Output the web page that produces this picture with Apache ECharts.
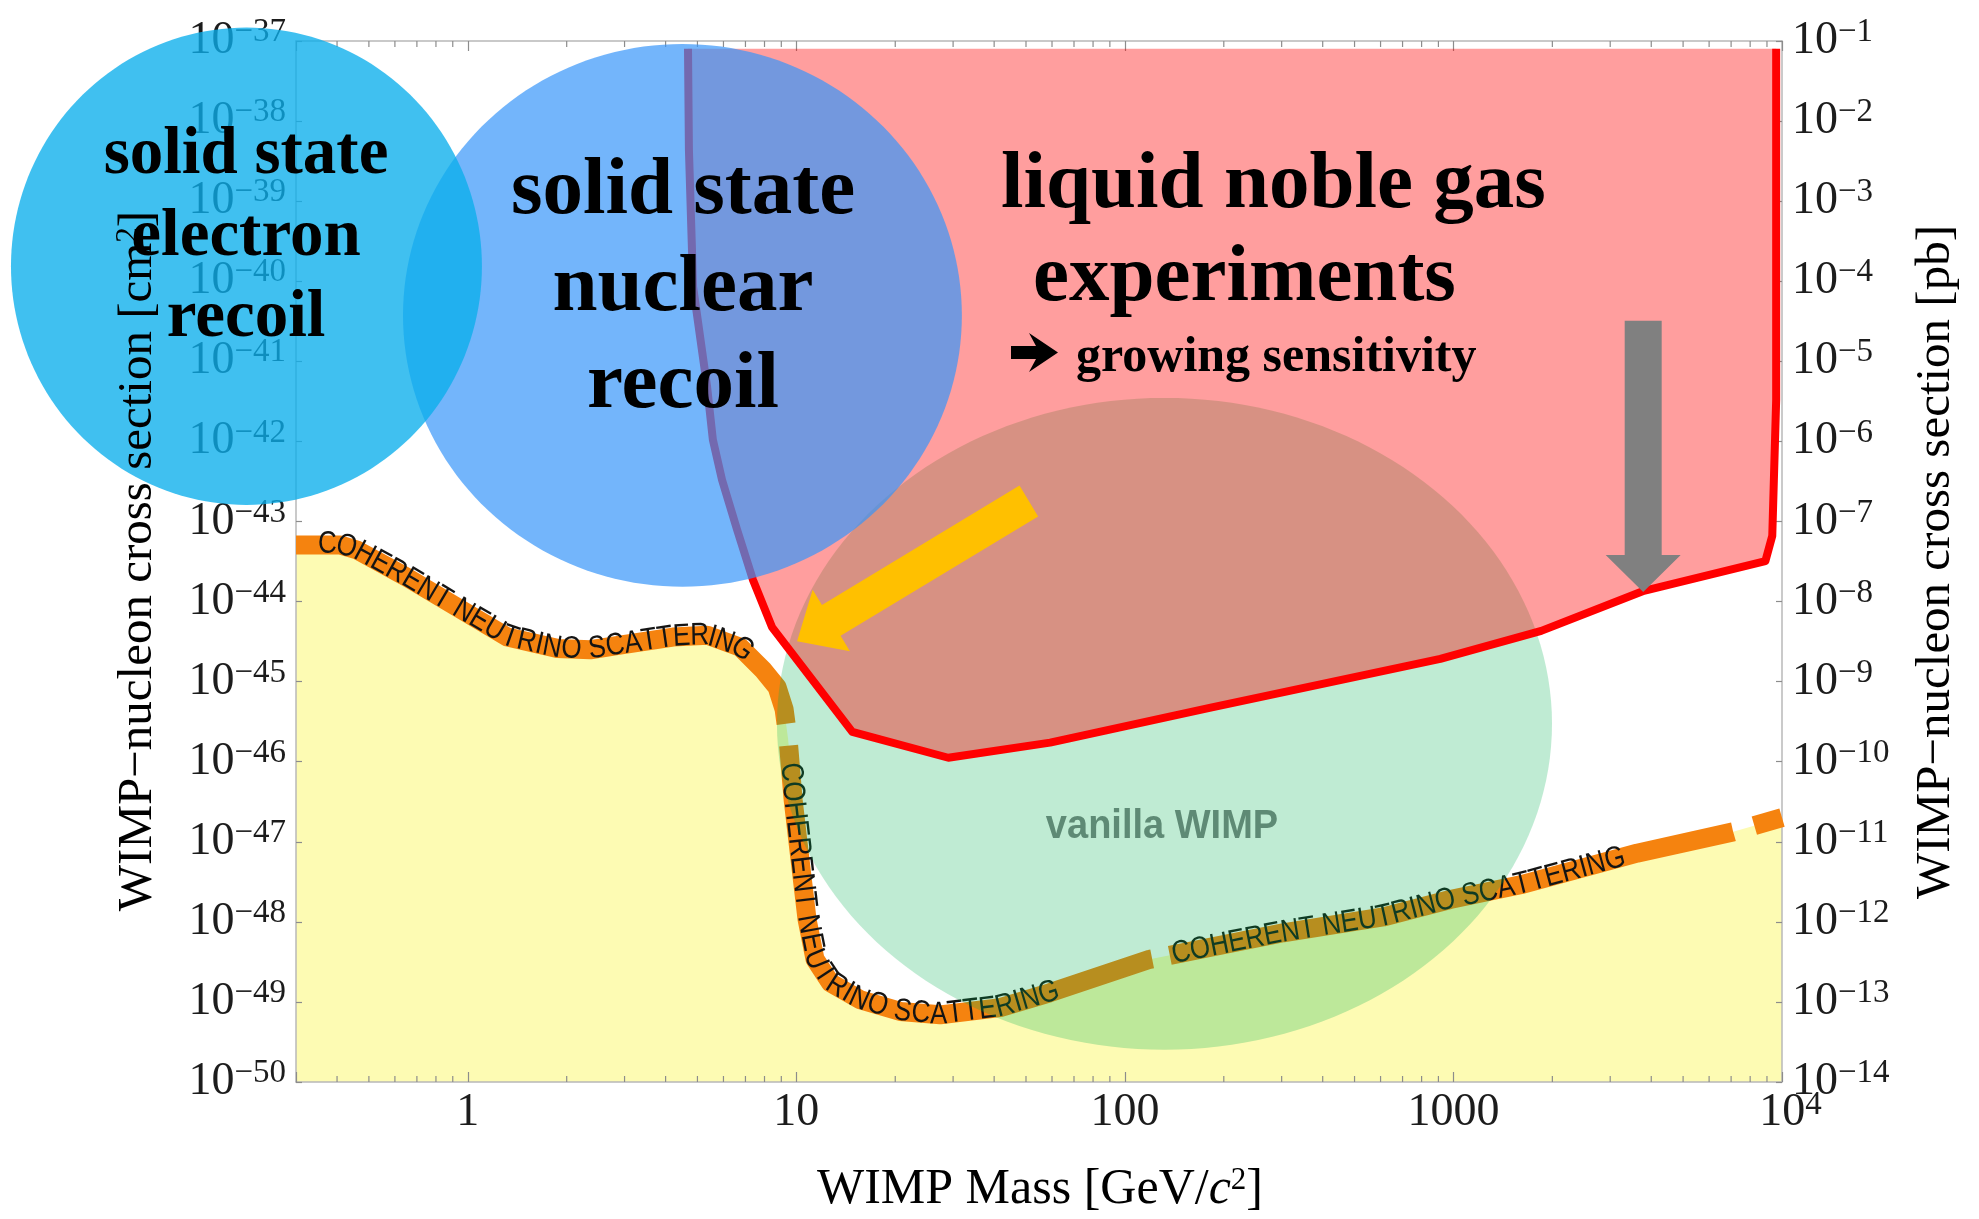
<!DOCTYPE html>
<html>
<head>
<meta charset="utf-8">
<title>WIMP-nucleon cross section vs WIMP mass</title>
<script src="https://cdn.jsdelivr.net/npm/echarts@6/dist/echarts.min.js"></script>
<style>
  html, body { margin: 0; padding: 0; background: #ffffff; }
  #chart { width: 1979px; height: 1219px; }
</style>
</head>
<body>
<div id="chart"></div>
<script>
// ---------------------------------------------------------------------------
// Data (mass in GeV/c^2, cross sections in cm^2)
// ---------------------------------------------------------------------------

// Coherent neutrino scattering floor
const floorMass  = [0.3, 0.408, 0.46, 0.653, 0.927, 1.32, 1.87, 2.36, 2.97, 4.21, 5.35, 6.74,
                    7.92, 8.74, 9.18, 9.44, 9.78, 10.26, 10.78, 11.4, 12.7, 15.6, 20.7, 27.4,
                    41.7, 59, 119, 303, 611, 977, 1600, 3620, 7100, 10000];
const floorSigma = [5.1e-44, 5.1e-44, 4.4e-44, 2.0e-44, 8.5e-45, 3.6e-45, 2.6e-45, 2.5e-45,
                    2.9e-45, 3.6e-45, 3.8e-45, 2.7e-45, 1.4e-45, 8.5e-46, 4.5e-46, 1.9e-46,
                    3.3e-47, 6.0e-48, 1.07e-48, 3.4e-49, 1.74e-49, 1.07e-49, 7.6e-50, 6.9e-50,
                    8.5e-50, 1.3e-49, 3.4e-49, 7.3e-49, 1.15e-48, 1.9e-48, 2.9e-48, 7.2e-48,
                    1.33e-47, 2.0e-47];

// Liquid noble gas experiments: reach of the sensitivity region (outline)
const nobleMass  = [4.68, 4.71, 4.85, 5.35, 5.57, 5.94, 6.6, 7.38, 8.43, 14.8, 29.0, 59.2,
                    181, 912, 1850, 3800, 8900, 9340, 9600, 9600];
const nobleSigma = [8e-38, 4.4e-39, 8.5e-41, 4.8e-42, 1.05e-42, 3.3e-43, 7.9e-44, 1.86e-44,
                    4.8e-45, 2.36e-46, 1.12e-46, 1.73e-46, 4.7e-46, 1.92e-45, 4.3e-45,
                    1.36e-44, 3.2e-44, 6.6e-44, 3.3e-42, 8e-38];

// Schematic regions (ellipses spanning these mass / cross-section ranges)
const regionNames     = ['solid state electron recoil', 'solid state nuclear recoil', 'vanilla WIMP'];
const regionMassLow   = [0.0407, 0.635, 8.73];
const regionMassHigh  = [1.104, 31.9, 1995];
const regionSigmaLow  = [1.61e-43, 1.53e-44, 2.53e-50];
const regionSigmaHigh = [1.47e-37, 9.18e-38, 3.49e-42];

// Arrows: [mass, sigma] of tail and tip
const sensitivityArrowTail = [51, 1.8e-43];
const sensitivityArrowTip  = [10.05, 3.2e-45];
const reachArrowTail = [3780, 3.2e-41];
const reachArrowTip  = [3780, 1.32e-44];

// Axis ranges and tick labels
const massRange  = [0.3, 1e4];
const sigmaRange = [1e-50, 1e-37];   // cm^2
const pbRange    = [1e-14, 1e-1];    // pb (1 pb = 1e-36 cm^2)
const massTickText = ['1', '10', '100', '1000'];

// Captions along the neutrino floor: start points, and the breaks in the dashed band
const captionText   = 'COHERENT NEUTRINO SCATTERING';
const captionStarts = [[0.35, 5.0e-44], [9.6, 9.7e-47], [139, 3.9e-49]];
const bandBreaks    = [[9.6, 2.2e-46], [129, 3.5e-49], [7670, 1.4e-47]];

// ---------------------------------------------------------------------------
const L = Math.log10;
const SERIF = '"Liberation Serif", "Times New Roman", serif';
const SANS  = '"Liberation Sans", Arial, sans-serif';
const TXT = '#1c1c1c';

function expText(e) { return e < 0 ? '\u2212' + (-e) : String(e); }
function powerLabel(v) {
  const e = Math.round(v);
  if (Math.abs(v - e) > 1e-6) return '';
  return '{b|10}{s|' + expText(e) + '}';
}
function massLabel(v) {
  const e = Math.round(v);
  if (Math.abs(v - e) > 1e-6 || e < 0) return '';
  return e < massTickText.length ? '{b|' + massTickText[e] + '}' : '{bb|10}{s|' + e + '}';
}

const yRich = {
  b: { fontFamily: SERIF, fontSize: 46, lineHeight: 50, color: TXT },
  s: { fontFamily: SERIF, fontSize: 33, lineHeight: 24, verticalAlign: 'top', color: TXT }
};
const xRich = {
  b:  { fontFamily: SERIF, fontSize: 46, lineHeight: 48, color: TXT },
  bb: { fontFamily: SERIF, fontSize: 46, lineHeight: 48, color: TXT, padding: [0, 0, 0, 17] },
  s:  { fontFamily: SERIF, fontSize: 33, lineHeight: 22, verticalAlign: 'top', color: TXT }
};

// minor ticks of the mass axis (2..9 within each decade)
const massMinorTicks = [];
for (let d = -1; d <= 3; d++) {
  for (let k = 2; k <= 9; k++) {
    const m = k * Math.pow(10, d);
    if (m > massRange[0] * 1.001 && m < massRange[1]) massMinorTicks.push(m);
  }
}

// --- polyline helpers (pixel space) ---------------------------------------
function polyInfo(pts) {
  const cum = [0];
  for (let i = 1; i < pts.length; i++) {
    cum.push(cum[i - 1] + Math.hypot(pts[i][0] - pts[i - 1][0], pts[i][1] - pts[i - 1][1]));
  }
  return { pts, cum, total: cum[cum.length - 1] };
}
function locate(info, s) {
  s = Math.max(0, Math.min(info.total, s));
  let i = 1;
  while (i < info.cum.length - 1 && info.cum[i] < s) i++;
  const seg = (info.cum[i] - info.cum[i - 1]) || 1;
  const t = (s - info.cum[i - 1]) / seg;
  const a = info.pts[i - 1], b = info.pts[i];
  return [a[0] + (b[0] - a[0]) * t, a[1] + (b[1] - a[1]) * t];
}
function slice(info, s0, s1) {
  const out = [locate(info, s0)];
  for (let i = 0; i < info.pts.length; i++) {
    if (info.cum[i] > s0 && info.cum[i] < s1) out.push(info.pts[i]);
  }
  out.push(locate(info, s1));
  return out;
}
function project(info, p) {
  let best = Infinity, arc = 0;
  for (let i = 1; i < info.pts.length; i++) {
    const a = info.pts[i - 1], b = info.pts[i];
    const dx = b[0] - a[0], dy = b[1] - a[1];
    const len2 = dx * dx + dy * dy || 1;
    let t = ((p[0] - a[0]) * dx + (p[1] - a[1]) * dy) / len2;
    t = Math.max(0, Math.min(1, t));
    const d = Math.hypot(p[0] - (a[0] + dx * t), p[1] - (a[1] + dy * t));
    if (d < best) { best = d; arc = info.cum[i - 1] + t * Math.sqrt(len2); }
  }
  return arc;
}

const measureCtx = document.createElement('canvas').getContext('2d');
const CAPTION_SIZE = 26;
measureCtx.font = CAPTION_SIZE + 'px "Liberation Sans"';

// --- neutrino floor: dashed orange band with captions ------------------------
function renderFloorBand(params, api) {
  if (params.dataIndex !== 0) return null;
  const pts = floorMass.map((m, i) => api.coord([L(m), L(floorSigma[i])]));
  const info = polyInfo(pts);
  const gapWidths = [22, 18, 22];
  const cuts = bandBreaks.map((p, i) => {
    const c = project(info, api.coord([L(p[0]), L(p[1])]));
    return [c - gapWidths[i] / 2, c + gapWidths[i] / 2];
  });
  const children = [];
  let s = 0;
  cuts.concat([[info.total, info.total]]).forEach(c => {
    children.push({
      type: 'polyline',
      shape: { points: slice(info, s, c[0]) },
      style: { stroke: '#f5830f', lineWidth: 19, fill: null, lineJoin: 'round', lineCap: 'butt' }
    });
    s = c[1];
  });
  captionStarts.forEach(p => {
    let pos = project(info, api.coord([L(p[0]), L(p[1])]));
    for (const ch of captionText) {
      const w = measureCtx.measureText(ch).width;
      const mid = pos + w / 2;
      const c = locate(info, mid);
      const a = locate(info, mid - 9), b = locate(info, mid + 9);
      const ang = Math.atan2(b[1] - a[1], b[0] - a[0]);
      if (ch !== ' ') {
        children.push({
          type: 'text', x: c[0], y: c[1], rotation: -ang, scaleY: 1.2,
          style: {
            text: ch, fill: '#141414', fontSize: CAPTION_SIZE, fontFamily: SANS,
            align: 'center', verticalAlign: 'middle'
          }
        });
      }
      pos += w;
    }
  });
  return { type: 'group', children };
}

// --- ellipse regions ---------------------------------------------------------
function ellipseRenderer(fill) {
  return function (params, api) {
    const p0 = api.coord([api.value(0), api.value(3)]);
    const p1 = api.coord([api.value(1), api.value(2)]);
    const cx = (p0[0] + p1[0]) / 2, cy = (p0[1] + p1[1]) / 2;
    const rx = Math.abs(p1[0] - p0[0]) / 2, ry = Math.abs(p1[1] - p0[1]) / 2;
    const points = [];
    for (let i = 0; i < 180; i++) {
      const t = (i / 180) * Math.PI * 2;
      points.push([cx + rx * Math.cos(t), cy + ry * Math.sin(t)]);
    }
    return { type: 'polygon', shape: { points }, style: { fill } };
  };
}
function regionData(i) {
  return [[L(regionMassLow[i]), L(regionMassHigh[i]), L(regionSigmaLow[i]), L(regionSigmaHigh[i])]];
}

// --- noble gas region --------------------------------------------------------
function renderNoble(params, api) {
  if (params.dataIndex !== 0) return null;
  const pts = nobleMass.map((m, i) => api.coord([L(m), L(nobleSigma[i])]));
  return {
    type: 'group',
    children: [
      { type: 'polygon', shape: { points: pts }, style: { fill: 'rgba(255,0,0,0.38)' } },
      { type: 'polyline', shape: { points: pts },
        style: { stroke: '#ff0000', lineWidth: 8, fill: null, lineJoin: 'round' } }
    ]
  };
}

// --- minor ticks on bottom and top mass axes ---------------------------------
function renderMinorTick(params, api) {
  const x = api.value(0);
  const b = api.coord([x, L(sigmaRange[0])]);
  const t = api.coord([x, L(sigmaRange[1])]);
  const st = { stroke: '#8c8c8c', lineWidth: 1.2 };
  return {
    type: 'group',
    children: [
      { type: 'line', shape: { x1: b[0], y1: b[1], x2: b[0], y2: b[1] - 6 }, style: st },
      { type: 'line', shape: { x1: t[0], y1: t[1], x2: t[0], y2: t[1] + 6 }, style: st }
    ]
  };
}

const axisLineStyle = { show: true, onZero: false, lineStyle: { color: '#b8b8b8', width: 1.5 } };
const chart = echarts.init(document.getElementById('chart'), null, { renderer: 'canvas' });

chart.setOption({
  animation: false,
  backgroundColor: '#ffffff',
  grid: { left: 296, top: 41, width: 1486, height: 1041, containLabel: false },
  xAxis: [
    {
      type: 'value', position: 'bottom', z: 1.5,
      min: L(massRange[0]), max: L(massRange[1]),
      axisLine: axisLineStyle,
      axisTick: { show: true, inside: true, length: 10, lineStyle: { color: '#8c8c8c', width: 1.2 } },
      axisLabel: { margin: 7, formatter: massLabel, rich: xRich },
      splitLine: { show: false }
    },
    {
      type: 'value', position: 'top', z: 1.5,
      min: L(massRange[0]), max: L(massRange[1]),
      axisLine: axisLineStyle,
      axisTick: { show: true, inside: true, length: 10, lineStyle: { color: '#8c8c8c', width: 1.2 } },
      axisLabel: { show: false },
      splitLine: { show: false }
    }
  ],
  yAxis: [
    {
      type: 'value', position: 'left', z: 1.5,
      min: L(sigmaRange[0]), max: L(sigmaRange[1]), interval: 1,
      axisLine: axisLineStyle,
      axisTick: { show: true, inside: true, length: 6, lineStyle: { color: '#8c8c8c', width: 1.2 } },
      axisLabel: { margin: 10, formatter: powerLabel, rich: yRich },
      splitLine: { show: false }
    },
    {
      type: 'value', position: 'right', z: 1.5,
      min: L(pbRange[0]), max: L(pbRange[1]), interval: 1,
      axisLine: axisLineStyle,
      axisTick: { show: true, inside: true, length: 6, lineStyle: { color: '#8c8c8c', width: 1.2 } },
      axisLabel: { margin: 10, formatter: powerLabel, rich: yRich },
      splitLine: { show: false }
    }
  ],
  series: [
    {
      name: 'neutrino floor', type: 'line', z: 1, silent: true,
      data: floorMass.map((m, i) => [L(m), L(floorSigma[i])]),
      symbol: 'none',
      lineStyle: { width: 0, opacity: 0 },
      areaStyle: { color: '#fdfbb3', opacity: 1, origin: 'start' }
    },
    {
      name: 'mass minor ticks', type: 'custom', z: 1.6, silent: true,
      data: massMinorTicks.map(m => [L(m), L(sigmaRange[0])]),
      renderItem: renderMinorTick
    },
    {
      name: 'neutrino floor band', type: 'custom', z: 2, silent: true,
      data: [[L(floorMass[0]), L(floorSigma[0])]],
      renderItem: renderFloorBand
    },
    {
      name: regionNames[2], type: 'custom', z: 3, silent: true,
      data: regionData(2), encode: { x: [0, 1], y: [2, 3] },
      renderItem: ellipseRenderer('rgba(0,176,80,0.25)')
    },
    {
      name: 'liquid noble gas experiments', type: 'custom', z: 4, silent: true,
      data: [[L(nobleMass[0]), L(nobleSigma[0])]],
      renderItem: renderNoble
    },
    {
      name: regionNames[1], type: 'custom', z: 5, silent: true,
      data: regionData(1), encode: { x: [0, 1], y: [2, 3] },
      renderItem: ellipseRenderer('rgba(56,149,249,0.7)')
    },
    {
      name: regionNames[0], type: 'custom', z: 6, silent: true,
      data: regionData(0), encode: { x: [0, 1], y: [2, 3] },
      renderItem: ellipseRenderer('rgba(10,174,236,0.78)')
    }
  ]
});

// --- annotations ---------------------------------------------------------------
function px(p) { return chart.convertToPixel({ xAxisIndex: 0, yAxisIndex: 0 }, [L(p[0]), L(p[1])]); }
function arrowShape(tail, tip, shaftHalf, headHalf, headLen) {
  const dx = tip[0] - tail[0], dy = tip[1] - tail[1];
  const len = Math.hypot(dx, dy);
  const ux = dx / len, uy = dy / len, nx = -uy, ny = ux;
  const bx = tip[0] - ux * headLen, by = tip[1] - uy * headLen;
  return [
    [tail[0] + nx * shaftHalf, tail[1] + ny * shaftHalf],
    [bx + nx * shaftHalf, by + ny * shaftHalf],
    [bx + nx * headHalf, by + ny * headHalf],
    [tip[0], tip[1]],
    [bx - nx * headHalf, by - ny * headHalf],
    [bx - nx * shaftHalf, by - ny * shaftHalf],
    [tail[0] - nx * shaftHalf, tail[1] - ny * shaftHalf]
  ];
}
function label(text, x, y, size, extra) {
  return Object.assign({
    type: 'text', x, y, z: 100, silent: true,
    style: Object.assign({
      text, fill: '#000', fontSize: size, fontFamily: SERIF, fontWeight: 'bold',
      align: 'center', verticalAlign: 'middle'
    }, (extra && extra.style) || {})
  }, extra && extra.el ? extra.el : {});
}

const titleRich = {
  n: { fontFamily: SERIF, fontSize: 49, color: '#111' },
  i: { fontFamily: SERIF, fontSize: 49, fontStyle: 'italic', color: '#111' },
  s: { fontFamily: SERIF, fontSize: 31, lineHeight: 26, verticalAlign: 'top', color: '#111' }
};
const xTitleRich = {
  n: { fontFamily: SERIF, fontSize: 50, color: '#111' },
  i: { fontFamily: SERIF, fontSize: 50, fontStyle: 'italic', color: '#111' },
  s: { fontFamily: SERIF, fontSize: 31, lineHeight: 26, verticalAlign: 'top', color: '#111' }
};

// heavy right arrow in front of "growing sensitivity"
const bulletArrow = [[1011, 346], [1036, 346], [1029, 333], [1058, 352.5], [1029, 372], [1036, 359], [1011, 359]];

chart.setOption({
  graphic: [
    { type: 'polygon', z: 90, silent: true,
      shape: { points: arrowShape(px(sensitivityArrowTail), px(sensitivityArrowTip), 18, 36, 40) },
      style: { fill: '#ffc000' } },
    { type: 'polygon', z: 90, silent: true,
      shape: { points: arrowShape(px(reachArrowTail), px(reachArrowTip), 18.5, 37.5, 37) },
      style: { fill: '#808080' } },
    { type: 'polygon', z: 100, silent: true, shape: { points: bulletArrow }, style: { fill: '#000' } },

    label('solid state', 246, 156, 67),
    label('electron', 246, 238, 67),
    label('recoil', 246, 319, 67),

    label('solid state', 683, 192, 81),
    label('nuclear', 683, 289, 81),
    label('recoil', 683, 386, 81),

    label('liquid noble gas', 1001, 186, 81, { style: { align: 'left' } }),
    label('experiments', 1033, 279, 81, { style: { align: 'left' } }),
    label('growing sensitivity', 1076, 358, 50, { style: { align: 'left' } }),

    label('vanilla WIMP', 1162, 827, 38,
      { style: { fontFamily: SANS, fill: '#5e8a75' }, el: { scaleY: 1.08 } }),

    { type: 'text', x: 1040, y: 1190, z: 100, silent: true,
      style: { text: '{n|WIMP Mass [GeV/}{i|c}{s|2}{n|]}', rich: xTitleRich,
               align: 'center', verticalAlign: 'middle' } },
    { type: 'text', x: 138, y: 561, rotation: Math.PI / 2, z: 100, silent: true,
      style: { text: '{n|WIMP\u2212nucleon cross section [cm}{s|2}{n|]}', rich: titleRich,
               align: 'center', verticalAlign: 'middle' } },
    { type: 'text', x: 1936, y: 562, rotation: Math.PI / 2, z: 100, silent: true,
      style: { text: '{n|WIMP\u2212nucleon cross section [pb]}', rich: titleRich,
               align: 'center', verticalAlign: 'middle' } }
  ]
});
</script>
</body>
</html>
